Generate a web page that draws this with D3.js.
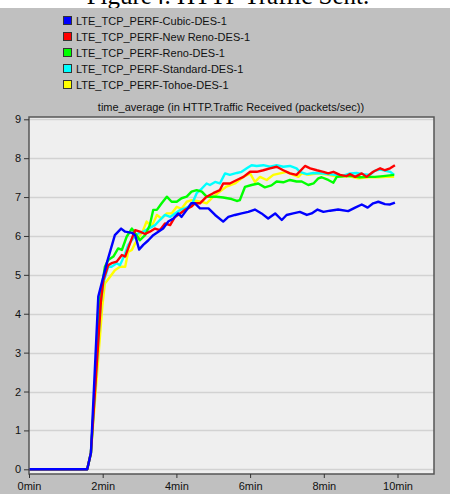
<!DOCTYPE html>
<html>
<head>
<meta charset="utf-8">
<script src="https://cdn.jsdelivr.net/npm/d3@7"></script>
<style>
  body { margin: 0; background: #fff; }
  svg { display: block; }
</style>
</head>
<body>
<div id="chart"></div>
<script>
// values: [minutes, packets/sec]
let start = [[0, 0], [1.58, 0], [1.68, 0.42]];

let cubicData = start.concat([[1.88,4.44],[2.11,5.30],[2.33,6.02],[2.50,6.19],[2.61,6.11],[2.79,6.08],[2.88,6.02],[2.99,5.65],[3.10,5.77],[3.24,5.89],[3.37,6.02],[3.51,6.11],[3.64,6.19],[3.78,6.37],[3.92,6.45],[4.05,6.58],[4.14,6.49],[4.28,6.67],[4.40,6.84],[4.50,6.84],[4.64,6.71],[4.87,6.71],[5.05,6.54],[5.27,6.37],[5.41,6.49],[5.59,6.54],[5.77,6.58],[5.95,6.62],[6.13,6.68],[6.31,6.58],[6.49,6.45],[6.68,6.58],[6.86,6.41],[6.99,6.54],[7.17,6.58],[7.35,6.62],[7.54,6.54],[7.67,6.58],[7.83,6.68],[7.99,6.62],[8.17,6.65],[8.39,6.68],[8.66,6.64],[8.85,6.73],[9.03,6.81],[9.19,6.73],[9.34,6.84],[9.48,6.88],[9.66,6.82],[9.80,6.81],[9.93,6.86]]);

let newRenoData = start.concat([[1.95,4.3],[2.02,4.87],[2.15,5.25],[2.24,5.30],[2.38,5.34],[2.52,5.51],[2.61,5.47],[2.74,5.81],[2.88,6.15],[3.01,6.11],[3.15,6.05],[3.28,6.11],[3.42,6.19],[3.55,6.15],[3.69,6.32],[3.83,6.28],[3.96,6.49],[4.10,6.58],[4.23,6.67],[4.40,6.75],[4.50,6.84],[4.64,6.84],[4.82,7.01],[5.00,7.10],[5.18,7.18],[5.27,7.35],[5.45,7.35],[5.64,7.44],[5.82,7.52],[6.00,7.65],[6.18,7.65],[6.36,7.69],[6.54,7.74],[6.72,7.78],[6.90,7.69],[7.08,7.61],[7.26,7.57],[7.49,7.80],[7.63,7.74],[7.81,7.69],[7.99,7.65],[8.12,7.61],[8.26,7.65],[8.44,7.57],[8.62,7.54],[8.71,7.59],[8.85,7.52],[9.03,7.61],[9.16,7.52],[9.34,7.65],[9.53,7.74],[9.66,7.69],[9.80,7.74],[9.93,7.82]]);

let renoData = start.concat([[1.93,4.4],[2.06,5.21],[2.15,5.38],[2.29,5.47],[2.42,5.68],[2.52,5.64],[2.65,5.98],[2.79,6.19],[2.92,6.02],[3.01,5.89],[3.15,6.02],[3.28,6.28],[3.37,6.67],[3.47,6.67],[3.60,6.84],[3.74,7.01],[3.87,6.88],[4.01,6.88],[4.14,6.97],[4.28,7.01],[4.41,7.14],[4.55,7.18],[4.69,7.14],[4.82,7.01],[5.09,7.01],[5.27,6.99],[5.50,6.95],[5.64,6.90],[5.72,6.92],[5.86,7.26],[6.04,7.31],[6.22,7.35],[6.40,7.25],[6.58,7.30],[6.72,7.40],[6.90,7.38],[7.08,7.44],[7.26,7.40],[7.40,7.40],[7.58,7.31],[7.72,7.35],[7.85,7.48],[7.94,7.51],[8.12,7.44],[8.26,7.37],[8.35,7.52],[8.58,7.54],[8.76,7.54],[8.98,7.51],[9.16,7.52],[9.39,7.52],[9.61,7.54],[9.91,7.57]]);

let standardData = start.concat([[1.95,4.3],[2.02,4.8],[2.15,5.21],[2.24,5.21],[2.38,5.30],[2.47,5.25],[2.61,5.55],[2.69,5.77],[2.83,5.94],[2.97,6.07],[3.10,6.11],[3.24,6.19],[3.42,6.28],[3.55,6.41],[3.69,6.54],[3.83,6.49],[3.96,6.58],[4.10,6.67],[4.23,6.71],[4.41,6.79],[4.55,7.10],[4.69,7.22],[4.82,7.35],[4.91,7.31],[5.05,7.39],[5.18,7.35],[5.32,7.61],[5.45,7.57],[5.64,7.62],[5.77,7.65],[5.91,7.74],[6.04,7.82],[6.18,7.80],[6.36,7.82],[6.54,7.78],[6.72,7.82],[6.90,7.78],[7.08,7.80],[7.26,7.74],[7.35,7.65],[7.54,7.59],[7.72,7.62],[7.94,7.61],[8.12,7.59],[8.30,7.57],[8.49,7.54],[8.71,7.61],[8.89,7.62],[9.07,7.59],[9.25,7.57],[9.39,7.68],[9.53,7.71],[9.66,7.68],[9.80,7.65],[9.91,7.57]]);

let tohoeData = start.concat([[1.99,4.2],[2.06,4.78],[2.20,4.95],[2.33,5.12],[2.47,5.21],[2.61,5.21],[2.69,5.59],[2.79,5.64],[2.88,5.81],[2.97,5.94],[3.10,6.15],[3.19,6.37],[3.33,6.24],[3.47,6.54],[3.60,6.45],[3.74,6.58],[3.87,6.58],[4.01,6.75],[4.14,6.70],[4.28,6.88],[4.41,6.92],[4.55,6.90],[4.69,6.88],[4.82,6.84],[5.00,7.01],[5.18,7.14],[5.36,7.27],[5.59,7.35],[5.82,7.52],[6.00,7.61],[6.13,7.39],[6.27,7.52],[6.45,7.44],[6.63,7.57],[6.81,7.61],[6.99,7.65],[7.17,7.57],[7.31,7.52],[7.40,7.61],[7.58,7.57],[7.85,7.61],[8.12,7.57],[8.39,7.52],[8.66,7.54],[8.94,7.48],[9.21,7.51],[9.48,7.51],[9.71,7.52],[9.91,7.52]]);

let seriesNames = [
  'LTE_TCP_PERF-Cubic-DES-1',
  'LTE_TCP_PERF-New Reno-DES-1',
  'LTE_TCP_PERF-Reno-DES-1',
  'LTE_TCP_PERF-Standard-DES-1',
  'LTE_TCP_PERF-Tohoe-DES-1'
];
let seriesData = [cubicData, newRenoData, renoData, standardData, tohoeData];
let seriesColors = ['#0000ff', '#ff0000', '#00ff00', '#00ffff', '#ffff00'];
let xTicks = [0, 2, 4, 6, 8, 10];
let yTicks = [0, 1, 2, 3, 4, 5, 6, 7, 8, 9];

let width = 450;
let height = 494;

let svg = d3.select('#chart')
  .append('svg')
  .attr('width', width)
  .attr('height', height)
  .style('font-family', '"Liberation Sans", Arial, sans-serif');

// caption strip at the very top (cut off in the original)
svg.append('text')
  .attr('x', 228)
  .attr('y', 4)
  .attr('text-anchor', 'middle')
  .style('font-family', '"Liberation Serif", "Times New Roman", serif')
  .style('font-size', '25px')
  .text('Figure4. HTTP Traffic Sent.');

svg.append('rect')
  .attr('x', 0).attr('y', 8)
  .attr('width', width).attr('height', height - 8)
  .attr('fill', '#c0c0c0');

// legend
let legend = svg.selectAll('.legend')
  .data(seriesNames)
  .enter()
  .append('g')
  .attr('class', 'legend')
  .attr('transform', (d, i) => `translate(63,${21 + i * 16})`);

legend.append('rect')
  .attr('x', 0.5).attr('y', -4.5)
  .attr('width', 8).attr('height', 8)
  .attr('fill', (d, i) => seriesColors[i])
  .attr('stroke', '#333')
  .attr('stroke-width', 1);

legend.append('text')
  .attr('x', 13)
  .attr('y', 4)
  .style('font-size', '11px')
  .attr('fill', '#111')
  .text(d => d);

svg.append('text')
  .attr('x', 231)
  .attr('y', 111)
  .attr('text-anchor', 'middle')
  .style('font-size', '11px')
  .attr('fill', '#111')
  .text('time_average (in HTTP.Traffic Received (packets/sec))');

// plot frame
let plotLeft = 29, plotRight = 434, plotTop = 117, plotBottom = 474;

let x = d3.scaleLinear().domain([0, 10]).range([29, 397.5]);
let y = d3.scaleLinear().domain([0, 9]).range([469.3, 119.3]);

svg.append('rect')
  .attr('x', plotLeft).attr('y', plotTop)
  .attr('width', plotRight - plotLeft).attr('height', plotBottom - plotTop)
  .attr('fill', '#efefef');

svg.append('g')
  .selectAll('line')
  .data(yTicks)
  .enter()
  .append('line')
  .attr('x1', plotLeft).attr('x2', plotRight)
  .attr('y1', d => Math.round(y(d)) + 0.5)
  .attr('y2', d => Math.round(y(d)) + 0.5)
  .attr('stroke', '#d2d2d2')
  .attr('stroke-width', 1.5);

let line = d3.line()
  .x(d => x(d[0]))
  .y(d => y(d[1]));

let drawOrder = [4, 3, 2, 1, 0];
svg.append('g')
  .selectAll('path')
  .data(drawOrder)
  .enter()
  .append('path')
  .attr('d', i => line(seriesData[i]))
  .attr('fill', 'none')
  .attr('stroke', i => seriesColors[i])
  .attr('stroke-width', 2.4)
  .attr('stroke-linejoin', 'round');

svg.append('rect')
  .attr('x', plotLeft).attr('y', plotTop)
  .attr('width', plotRight - plotLeft).attr('height', plotBottom - plotTop)
  .attr('fill', 'none')
  .attr('stroke', '#555')
  .attr('stroke-width', 1.5);

// axes
let yAxis = d3.axisLeft(y)
  .tickValues(yTicks)
  .tickSize(5)
  .tickPadding(3);

let xAxis = d3.axisBottom(x)
  .tickValues(xTicks)
  .tickSize(4)
  .tickPadding(4)
  .tickFormat(d => d + 'min');

let yg = svg.append('g')
  .attr('transform', `translate(${plotLeft},0)`)
  .call(yAxis);

let xg = svg.append('g')
  .attr('transform', `translate(0,${plotBottom})`)
  .call(xAxis);

[yg, xg].forEach(g => {
  g.select('.domain').remove();
  g.selectAll('.tick line').attr('stroke', '#333');
  g.selectAll('.tick text')
    .attr('fill', '#111')
    .style('font-size', '11px')
    .style('font-family', '"Liberation Sans", Arial, sans-serif');
});
</script>
</body>
</html>
